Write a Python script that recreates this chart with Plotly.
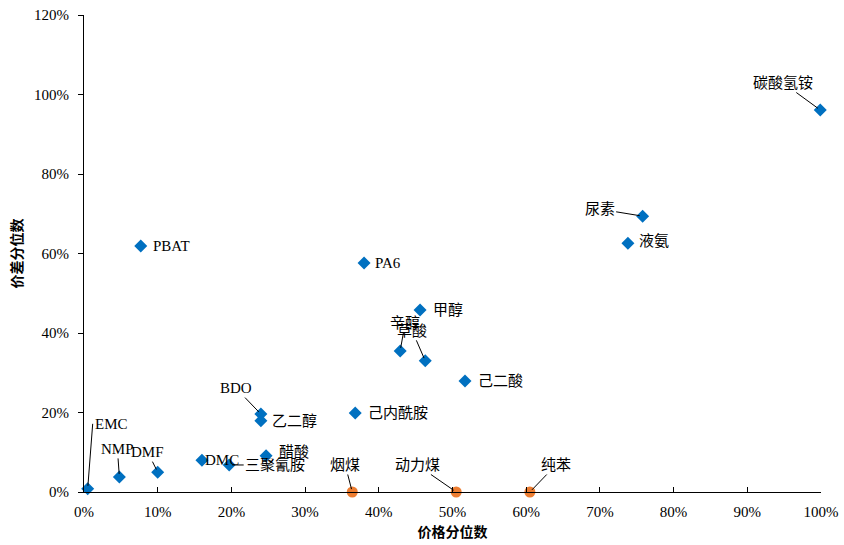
import plotly.graph_objects as go

# Chemical products: price percentile (x) vs. spread percentile (y)
chem_names = ["EMC", "NMP", "DMF", "DMC", "三聚氰胺", "醋酸", "BDO", "乙二醇",
              "己内酰胺", "辛醇", "草酸", "甲醇", "己二酸", "PA6", "PBAT",
              "液氨", "尿素", "碳酸氢铵"]
chem_price_pct = [0.005, 0.048, 0.100, 0.160, 0.197, 0.247, 0.240, 0.240,
                  0.368, 0.429, 0.463, 0.456, 0.517, 0.380, 0.077,
                  0.738, 0.758, 0.999]
chem_spread_pct = [0.008, 0.038, 0.050, 0.080, 0.068, 0.091, 0.196, 0.179,
                   0.199, 0.355, 0.330, 0.458, 0.279, 0.576, 0.619,
                   0.626, 0.694, 0.961]

# Upstream feedstocks
feed_names = ["烟煤", "动力煤", "纯苯"]
feed_price_pct = [0.364, 0.505, 0.605]
feed_spread_pct = [0.0, 0.0, 0.0]

# Label placement: (mode, dx, dy); "arrow" draws a leader line to the text
label_pos = {
    "EMC": ("arrowleft", 5, -65),
    "NMP": ("arrow", -2, -28),
    "DMF": ("arrow", -10, -20),
    "DMC": ("text", 20, 0),
    "三聚氰胺": ("arrow", 46, 0),
    "醋酸": ("text", 28, 4),
    "BDO": ("arrow", -25, -26),
    "乙二醇": ("left", 9, 0),
    "己内酰胺": ("left", 11, 0),
    "辛醇": ("arrow", 5, -28),
    "草酸": ("arrow", -13, -30),
    "甲醇": ("left", 11, 0),
    "己二酸": ("left", 11, 0),
    "PA6": ("left", 9, 0),
    "PBAT": ("left", 10, 0),
    "液氨": ("left", 9, -2),
    "尿素": ("arrow", -43, -7),
    "碳酸氢铵": ("arrow", -37, -27),
    "烟煤": ("arrow", -7, -27),
    "动力煤": ("arrow", -39, -27),
    "纯苯": ("arrow", 26, -27),
}

FONT = "Liberation Serif, Times New Roman, Noto Sans CJK SC, serif"
LABEL_FONT = dict(family=FONT, size=15, color="#000000")

fig = go.Figure()
fig.add_trace(go.Scatter(
    x=chem_price_pct, y=chem_spread_pct, mode="markers",
    marker=dict(symbol="diamond", size=10, color="#0070C0"),
    cliponaxis=False, showlegend=False, hoverinfo="skip"))
fig.add_trace(go.Scatter(
    x=feed_price_pct, y=feed_spread_pct, mode="markers",
    marker=dict(symbol="circle", size=11, color="#ED7D31"),
    cliponaxis=False, showlegend=False, hoverinfo="skip"))

annotations = []
for names, xs, ys in [(chem_names, chem_price_pct, chem_spread_pct),
                      (feed_names, feed_price_pct, feed_spread_pct)]:
    for n, xv, yv in zip(names, xs, ys):
        mode, dx, dy = label_pos[n]
        if mode in ("arrow", "arrowleft"):
            annotations.append(dict(
                x=xv, y=yv, text=n, showarrow=True, arrowhead=0,
                arrowwidth=1, arrowcolor="#000000", ax=dx, ay=dy,
                xanchor="left" if mode == "arrowleft" else "auto",
                standoff=3, font=LABEL_FONT))
        elif mode == "left":
            annotations.append(dict(
                x=xv, y=yv, text=n, showarrow=False, xanchor="left",
                xshift=dx, yshift=-dy, font=LABEL_FONT))
        else:
            annotations.append(dict(
                x=xv, y=yv, text=n, showarrow=False,
                xshift=dx, yshift=dy, font=LABEL_FONT))

fig.update_layout(
    width=844, height=545,
    margin=dict(l=84, r=23, t=15, b=53),
    paper_bgcolor="white", plot_bgcolor="white",
    font=dict(family=FONT, size=14, color="#000000"),
    annotations=annotations,
    xaxis=dict(
        range=[0, 1], dtick=0.1, tickformat=".0%", automargin=False,
        showgrid=False, zeroline=False,
        showline=True, linecolor="#000000", linewidth=1,
        ticks="inside", ticklen=5, tickcolor="#000000",
        ticklabelstandoff=6,
        tickfont=dict(family=FONT, size=15),
        title=dict(text="<b>价格分位数</b>", standoff=8,
                   font=dict(family=FONT, size=14)),
    ),
    yaxis=dict(
        range=[0, 1.2], dtick=0.2, tickformat=".0%", automargin=False,
        showgrid=False, zeroline=False,
        showline=True, linecolor="#000000", linewidth=1,
        ticks="outside", ticklen=5, tickcolor="#000000",
        ticklabelstandoff=6,
        tickfont=dict(family=FONT, size=15),
        title=dict(text="<b>价差分位数</b>", standoff=8,
                   font=dict(family=FONT, size=14)),
    ),
)

fig.write_html("out.html")
